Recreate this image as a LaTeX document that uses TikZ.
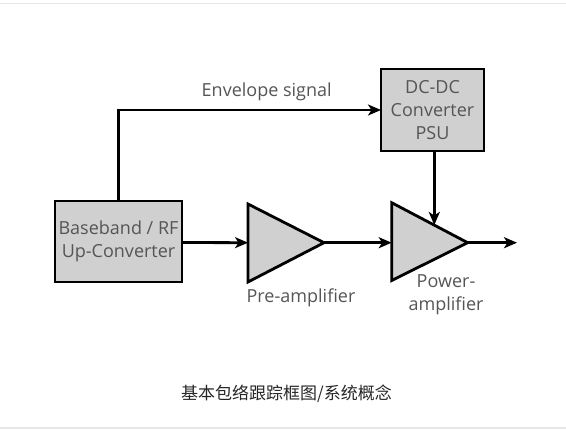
\documentclass[tikz,border=0pt]{standalone}
\usepackage{fontspec}
\setmainfont{Open Sans}
\newfontfamily\cjk{Noto Sans CJK SC}
\usetikzlibrary{arrows.meta}
\definecolor{txtgray}{HTML}{555555}
\definecolor{boxfill}{HTML}{D0D0D0}
\definecolor{rulegray}{HTML}{E6E6E6}
\begin{document}
\begin{tikzpicture}[x=1pt,y=-1pt,
  blockbox/.style={draw=black,fill=boxfill,line width=2.8pt},
  amp/.style={draw=black,fill=boxfill,line width=2.8pt,line join=miter},
  lbl/.style={text=txtgray,font=\fontsize{18}{23}\selectfont,align=center,inner sep=0pt},
  conn/.style={line width=2.8pt,-{Stealth[length=13pt,width=11pt,inset=3.5pt]}}]
\useasboundingbox (0,0) rectangle (566,432);
\draw[rulegray,line width=1.2pt] (0,3.5) -- (566,3.5);
\draw[rulegray,line width=1.2pt] (0,428) -- (566,428);
% blocks
\fill[boxfill] (55,201) rectangle (182,282);
\node[lbl] (bb) at (118.5,241.5) {Baseband / RF\\Up-Converter};
\draw[blockbox,fill=none] (55,201) rectangle (182,282);
\coordinate (bbtop) at (118.5,201);
\coordinate (bbright) at (182,242.5);
\draw[blockbox] (381,69) rectangle (484,151);
\node[lbl] (dc) at (432.5,110) {DC-DC\\Converter\\PSU};
\coordinate (dcleft) at (381,110);
\coordinate (dcbot) at (434.3,151);
% amplifiers
\draw[amp] (248,204) -- (324,242.7) -- (248,282) -- cycle;
\coordinate (preIn) at (248,242.7);
\coordinate (preOut) at (324,242.7);
\draw[amp] (391.7,202.7) -- (467.7,242.7) -- (391.7,280.5) -- cycle;
\coordinate (paIn) at (391.7,242.7);
\coordinate (paOut) at (467.7,242.7);
\coordinate (paTop) at (434.3,225);
\coordinate (outEnd) at (517,242.7);
\coordinate (corner) at (118.5,110);
% connectors
\draw[conn] (bbtop) -- (corner) -- (dcleft);
\draw[conn] (bbright) -- (preIn);
\draw[conn] (preOut) -- (paIn);
\draw[conn] (dcbot) -- (paTop);
\draw[conn] (paOut) -- (outEnd);
% labels
\node[lbl] (env) at (266.7,92) {Envelope signal};
\node[lbl] (prelbl) at (301,298) {Pre-amplifier};
\node[lbl] (palbl) at (446,295) {Power-\\amplifier};
\node[text=black!85,font=\cjk\fontsize{17}{20}\selectfont,inner sep=0pt] (cap) at (286.5,393.5) {基本包络跟踪框图/系统概念};
\end{tikzpicture}
\end{document}
